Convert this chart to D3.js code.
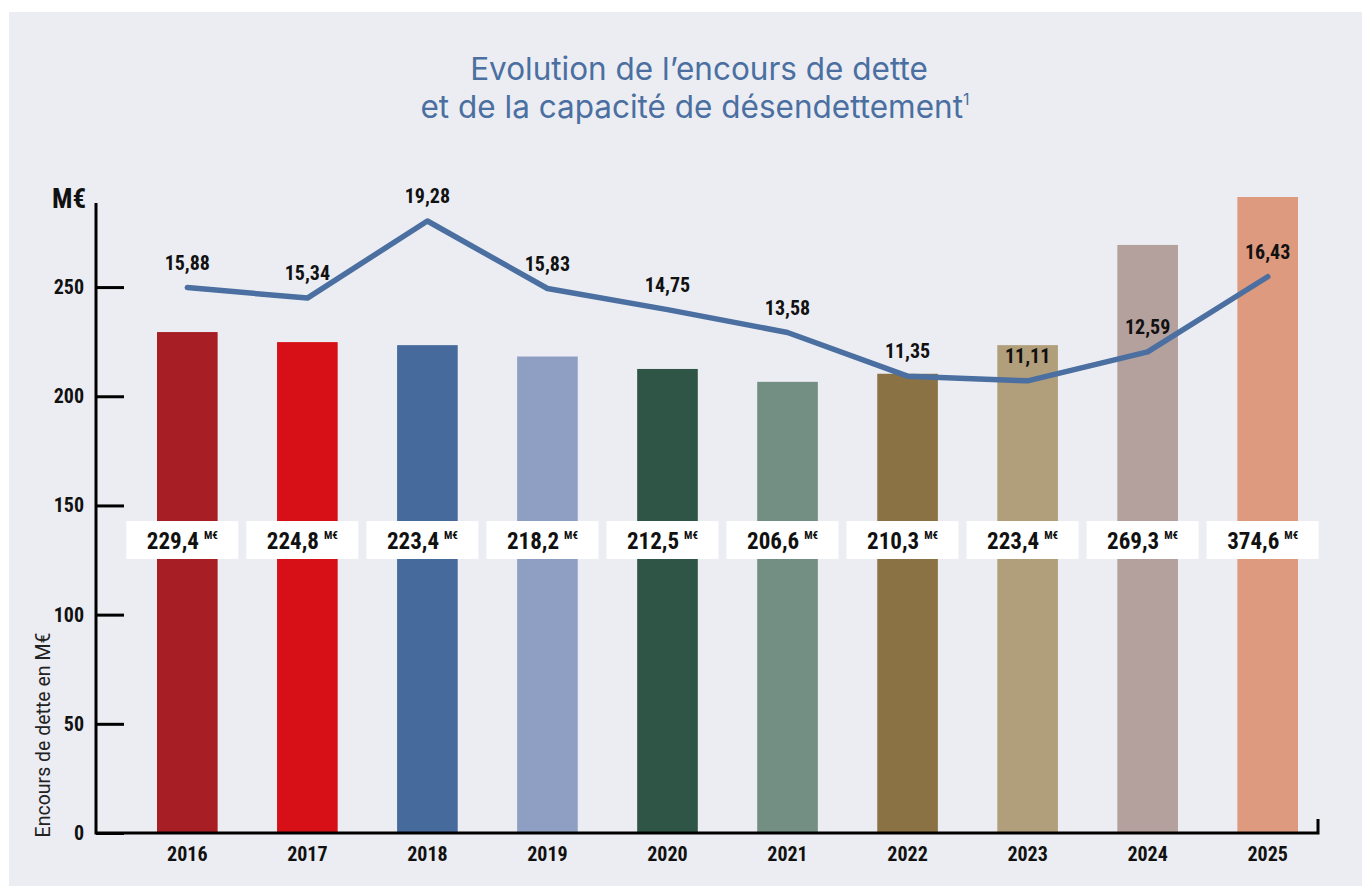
<!DOCTYPE html>
<html>
<head>
<meta charset="utf-8">
<script src="https://cdn.jsdelivr.net/npm/d3@7"></script>
<style>
  body { margin: 0; background: #fff; }
  .cond { font-family: "Roboto Condensed", "Liberation Sans Narrow", "DejaVu Sans Condensed", Roboto, sans-serif; font-stretch: condensed; font-weight: bold; }
</style>
</head>
<body>
<div id="chart"></div>
<script>
// data
var years = ["2016", "2017", "2018", "2019", "2020", "2021", "2022", "2023", "2024", "2025"];
var encours = [229.4, 224.8, 223.4, 218.2, 212.5, 206.6, 210.3, 223.4, 269.3, 374.6];
var capacite = [15.88, 15.34, 19.28, 15.83, 14.75, 13.58, 11.35, 11.11, 12.59, 16.43];
var barColors = ["#a71f24", "#d61016", "#476a9d", "#8f9fc3", "#2e5546", "#738f83", "#8b7245", "#b19e7a", "#b4a09d", "#de9a7e"];
var yTicks = [0, 50, 100, 150, 200, 250];

var W = 1362, H = 886;
var svg = d3.select("#chart").append("svg")
    .attr("width", W).attr("height", H);

// panel
svg.append("rect").attr("x", 9).attr("y", 12).attr("width", W - 9).attr("height", H - 12)
    .attr("fill", "#ecedf3");

// title
var title = svg.append("text").attr("text-anchor", "middle")
    .attr("font-family", "Inter, Roboto, sans-serif")
    .attr("font-size", 31.5).attr("fill", "#4a6fa0");
title.append("tspan").attr("x", 699).attr("y", 80).text("Evolution de l\u2019encours de dette");
title.append("tspan").attr("x", 695).attr("y", 118).text("et de la capacité de désendettement");
title.append("tspan").attr("dy", -13).attr("font-size", 16).text("1");

var axL = 96, axR = 1318, axB = 833, axT = 203;

var x = d3.scaleBand().domain(years).range([127, 1328]).paddingInner(0.495).paddingOuter(0.25);
var y = d3.scaleLinear().domain([0, 288.5]).range([axB, axT]);
// secondary scale for the line (années de désendettement)
var yL = d3.scaleLinear().domain([-12, 20.2]).range([axB, axT]);

svg.append("clipPath").attr("id", "clip")
  .append("rect").attr("x", 0).attr("y", 197).attr("width", W).attr("height", axB - 197);

// bars
svg.append("g").attr("clip-path", "url(#clip)")
  .selectAll("rect").data(years).enter().append("rect")
    .attr("x", function(d) { return x(d); })
    .attr("width", x.bandwidth())
    .attr("y", function(d, i) { return y(encours[i]); })
    .attr("height", function(d, i) { return axB - y(encours[i]); })
    .attr("fill", function(d, i) { return barColors[i]; });

// axes
var yAxis = svg.append("g").attr("transform", "translate(" + axL + ",0)")
    .call(d3.axisRight(y).tickValues(yTicks).tickSize(28).tickFormat(""));
yAxis.select(".domain").remove();
yAxis.selectAll(".tick line").attr("stroke", "#000").attr("stroke-width", 3);

svg.append("path")
    .attr("d", "M" + axL + "," + axT + "V" + axB + "H" + axR + "V" + (axB - 14))
    .attr("fill", "none").attr("stroke", "#000").attr("stroke-width", 3);

svg.append("g").selectAll("text").data(yTicks).enter().append("text")
    .attr("class", "cond")
    .attr("x", 84).attr("y", function(d) { return y(d) + 7; })
    .attr("text-anchor", "end").attr("font-size", 20).attr("fill", "#111")
    .text(function(d) { return d; });

svg.append("text").attr("class", "cond")
    .attr("x", 52).attr("y", 208).attr("font-size", 27).attr("fill", "#111").text("M€");

svg.append("text")
    .attr("transform", "translate(50,735) rotate(-90)")
    .attr("text-anchor", "middle")
    .attr("font-family", "Roboto, sans-serif").attr("font-size", 19.5).attr("fill", "#222")
    .text("Encours de dette en M€");

// year labels
svg.append("g").selectAll("text").data(years).enter().append("text")
    .attr("class", "cond")
    .attr("x", function(d) { return x(d) + x.bandwidth() / 2; })
    .attr("y", 861)
    .attr("text-anchor", "middle").attr("font-size", 20).attr("fill", "#111")
    .text(function(d) { return d; });

// value boxes
var boxes = svg.append("g").selectAll("g").data(years).enter().append("g")
    .attr("transform", function(d) { return "translate(" + (x(d) + x.bandwidth() / 2 - 5) + ",540)"; });
boxes.append("rect").attr("x", -56).attr("y", -19).attr("width", 112).attr("height", 38).attr("fill", "#fff");
var bt = boxes.append("text").attr("class", "cond").attr("text-anchor", "middle").attr("y", 9).attr("fill", "#111");
bt.append("tspan").attr("font-size", 23).text(function(d, i) { return encours[i].toFixed(1).replace(".", ","); });
bt.append("tspan").attr("font-size", 11).attr("dx", 5).attr("dy", -10).text("M€");

// line
var line = d3.line()
    .x(function(d, i) { return x(years[i]) + x.bandwidth() / 2; })
    .y(function(d) { return yL(d); });
svg.append("path").datum(capacite)
    .attr("d", line)
    .attr("fill", "none").attr("stroke", "#4a6fa0").attr("stroke-width", 5.5)
    .attr("stroke-linejoin", "round").attr("stroke-linecap", "round");

svg.append("g").selectAll("text").data(capacite).enter().append("text")
    .attr("class", "cond")
    .attr("x", function(d, i) { return x(years[i]) + x.bandwidth() / 2; })
    .attr("y", function(d) { return yL(d) - 18; })
    .attr("text-anchor", "middle").attr("font-size", 20).attr("fill", "#111")
    .text(function(d) { return d.toFixed(2).replace(".", ","); });
</script>
</body>
</html>
